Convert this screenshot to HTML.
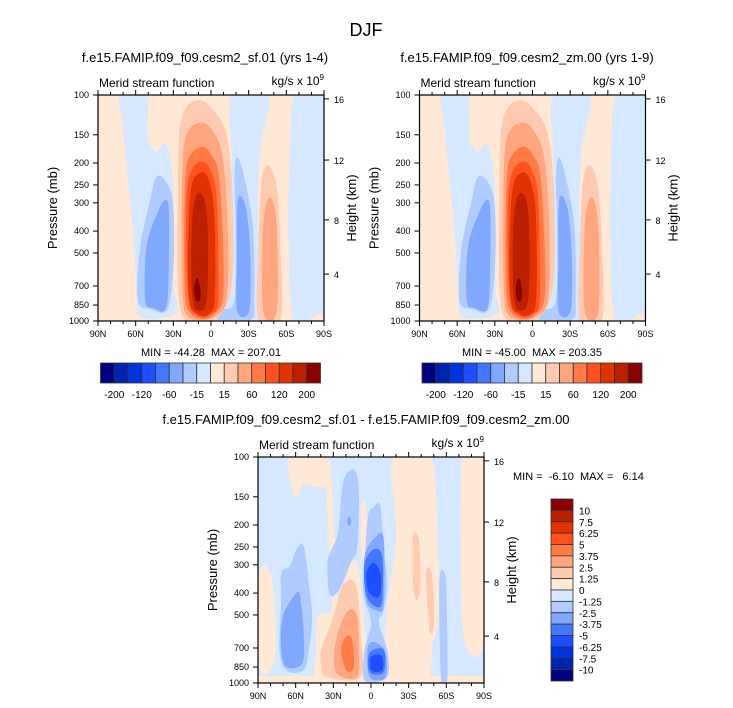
<!DOCTYPE html>
<html><head><meta charset="utf-8"><style>
body{margin:0;background:#fff;}
svg{display:block;font-family:"Liberation Sans",Arial,sans-serif;}
text{white-space:pre;}
</style></head><body>
<svg id="fig" width="733" height="708" viewBox="0 0 733 708" xmlns="http://www.w3.org/2000/svg">
<text x="366" y="36" font-size="18" text-anchor="middle">DJF</text>
</svg>
<script>
const colors=['#000080','#0022b0','#0033dd','#1e4fff','#4477ff','#80a8ff','#b0ccff','#d6e8ff','#ffe8d6','#ffcbb0','#ffa57f','#ff7a45','#ff5020','#e03300','#b82000','#8b0000'];
const latTicks=[90,60,30,0,-30,-60,-90];
const latLabels=['90N','60N','30N','0','30S','60S','90S'];
const presTicks=[100,150,200,250,300,400,500,700,850,1000];
const heightTicks=[4,8,12,16];
const heightPres=[620,357,194,104];
const topBarLabels=['-200','','-120','','-60','','-15','','15','','60','','120','','200'];
const diffBarLabels=['10','7.5','6.25','5','3.75','2.5','1.25','0','-1.25','-2.5','-3.75','-5','-6.25','-7.5','-10'];
// shapes: [colorIndex, [[lat,p],...]]
const topShapes=[
 [7,[[72,100],[52,100],[51,153],[44,179],[36,167],[31,230],[30,384],[30,714],[28,925],[56,955],[59,714],[62,384],[70,138]]],
 [7,[[-17,100],[-45,100],[-42,138],[-38,195],[-37,383],[-38,990],[-5,995],[-8,900],[-17,700],[-17,383],[-17,195]]],
 [7,[[-67,100],[-90,100],[-90,751],[-84,925],[-66,990],[-62,383],[-63,195]]],
 [6,[[44,235],[48,292],[56,469],[58,808],[48,880],[35,880],[30,537],[31,292],[38,235]]],
 [5,[[36,292],[42,330],[51,469],[52,808],[46,870],[36,870],[34,537],[34,330]]],
 [6,[[-21,190],[-26,230],[-33,383],[-34,808],[-31,985],[-6,985],[-8,900],[-19,808],[-20,383],[-19,230]]],
 [5,[[-23,280],[-28,330],[-31,537],[-30,900],[-21,900],[-21,537],[-21,330]]],
 [9,[[-45,205],[-52,260],[-55,500],[-55,985],[-38,985],[-38,500],[-40,260]]],
 [10,[[-47,285],[-52,383],[-52,900],[-42,900],[-42,383]]],
 [9,[[10,106],[20,115],[25,150],[26,300],[26,700],[22,960],[10,995],[-5,960],[-16,700],[-17,300],[-12,150],[0,115]]],
 [10,[[8,133],[18,145],[22,190],[23,400],[22,800],[18,950],[8,985],[-3,950],[-12,800],[-13,400],[-9,190],[-1,145]]],
 [11,[[7,170],[16,185],[20,230],[21,500],[20,800],[15,935],[6,975],[-2,935],[-9,800],[-9.5,500],[-6,230],[0,185]]],
 [12,[[7,198],[15,215],[19,280],[19,600],[17,850],[12,930],[6,960],[0,930],[-5,850],[-5.5,600],[-4,280],[1,215]]],
 [13,[[7,221],[14,240],[17,320],[18,600],[16,850],[11,920],[6,945],[1,920],[-2,850],[-3,600],[-2,320],[2,240]]],
 [14,[[9,272],[13,300],[15,400],[15,700],[13,860],[9,895],[5,860],[3,700],[3,400],[5,300]]],
 [15,[[11,650],[13,720],[12,800],[11,815],[9,800],[9,720]]]
];
const diffShapes=[
 [8,[[90,938],[-90,938],[-90,1000],[90,1000]]],
 [8,[[88.4,327],[80.4,327],[76.5,509],[77.8,818],[88.4,846]]],
 [8,[[64.5,100],[35.3,100],[34.8,131],[43.3,135],[53.9,131],[59.2,150],[62.4,140]]],
 [8,[[35.8,114],[32.7,114],[28.7,258],[26.8,509],[30,509],[32.7,258]]],
 [8,[[41.9,509],[32.7,491],[24.7,429],[16.7,295],[11.4,300],[7.4,429],[6.1,970],[41.9,970],[43.3,714]]],
 [8,[[7.4,166],[4.8,163],[2.1,258],[4.8,306],[7.4,258]]],
 [8,[[-17.8,100],[-47,100],[-52.3,225],[-53.6,509],[-48.3,668],[-44.3,970],[-15.1,970],[-12.5,509],[-20.5,225]]],
 [8,[[-73.5,100],[-90,100],[-90,624],[-76.2,691],[-72.2,362]]],
 [9,[[39.3,714],[31.3,544],[23.4,387],[16.7,350],[11.4,387],[8.8,603],[8.8,938],[35.3,938],[39.3,846]]],
 [10,[[28.7,714],[23.4,544],[16.7,475],[11.4,509],[10.1,714],[11.4,938],[26.8,906]]],
 [11,[[23.4,714],[19.4,624],[15.4,646],[14.1,846],[19.4,875]]],
 [9,[[-33.7,225],[-37.7,233],[-39,362],[-36.3,429],[-33.7,350]]],
 [9,[[-44.3,327],[-48.3,338],[-49.7,544],[-47,583]]],
 [6,[[71.2,327],[64.5,306],[59.2,258],[53.9,249],[49.9,362],[47.3,509],[49.9,714],[53.9,875],[67.2,875],[72.5,714],[71.2,444]]],
 [5,[[69.8,509],[59.2,401],[56.5,429],[53.9,624],[55.2,818],[67.2,846],[71.2,714]]],
 [6,[[22,131],[14.1,114],[10.1,140],[11.4,249],[16.7,295],[26,387],[32.7,401],[34,286],[26,218]]],
 [5,[[18.5,190],[16.7,185],[16.2,197],[18,200]]],
 [6,[[4.8,295],[2.1,184],[-3.2,166],[-7.2,166],[-9.8,258],[-12.5,362],[-9.8,475],[-5.8,544],[-12.5,714],[-12.5,938],[4.8,970],[4.8,714],[-0.5,544],[4.8,429],[6.1,362]]],
 [5,[[4.8,276],[-4.5,225],[-9.8,233],[-9.8,444],[-4.5,475],[3.4,429]]],
 [5,[[2.1,691],[-4.5,668],[-11.2,739],[-11.2,938],[0.8,938]]],
 [4,[[4.8,300],[-1.9,258],[-8.5,276],[-8.5,429],[-4.5,459],[3.4,409]]],
 [4,[[0.8,739],[-9.8,714],[-9.8,891],[0.8,891]]],
 [3,[[3.4,327],[-1.9,295],[-7.2,327],[-7.2,401],[-3.2,415],[2.1,387]]],
 [3,[[-0.5,764],[-8.5,764],[-8.5,875],[-0.5,875]]],
 [6,[[-55,338],[-58.9,338],[-60.3,583],[-60.3,970],[-56.3,970],[-55,583]]]
];
const NS='http://www.w3.org/2000/svg';
const svg=document.getElementById('fig');
function mk(tag,attrs,parent){const e=document.createElementNS(NS,tag);for(const k in attrs)e.setAttribute(k,attrs[k]);(parent||svg).appendChild(e);return e;}
function txt(x,y,s,size,anchor,parent){const t=mk('text',{x:x,y:y,'font-size':size,'text-anchor':anchor||'start'},parent);t.textContent=s;return t;}
function smoothPath(P){
  const n=P.length;let d='M'+P[0][0].toFixed(1)+','+P[0][1].toFixed(1);
  for(let i=0;i<n;i++){
    const p0=P[(i-1+n)%n],p1=P[i],p2=P[(i+1)%n],p3=P[(i+2)%n];
    const c1=[p1[0]+(p2[0]-p0[0])/6,p1[1]+(p2[1]-p0[1])/6];
    const c2=[p2[0]-(p3[0]-p1[0])/6,p2[1]-(p3[1]-p1[1])/6];
    d+='C'+c1[0].toFixed(1)+','+c1[1].toFixed(1)+' '+c2[0].toFixed(1)+','+c2[1].toFixed(1)+' '+p2[0].toFixed(1)+','+p2[1].toFixed(1);
  }
  return d+'Z';
}
function panel(px,py,w,h,bg,shapes,name,title,titleX){
  const g=mk('g',{});
  
  
  const xs=lat=>px+(90-lat)/180*w;
  const ys=p=>py+Math.log10(p/100)*h;
  const clipId=name+'-clip';
  const cp=mk('clipPath',{id:clipId},g);mk('rect',{x:px,y:py,width:w,height:h},cp);
  const field=mk('g',{'clip-path':'url(#'+clipId+')'},g);
  mk('rect',{x:px,y:py,width:w,height:h,fill:colors[bg]},field);
  shapes.forEach(s=>{
    const pts=s[1].map(q=>[xs(q[0]),ys(q[1])]);
    const pl=mk('path',{d:smoothPath(pts),fill:colors[s[0]],stroke:colors[s[0]],'stroke-width':1,'stroke-linejoin':'round'},field);
    
    
  });
  mk('rect',{x:px,y:py,width:w,height:h,fill:'none',stroke:'#000','stroke-width':1.2},g);
  latTicks.forEach((l,i)=>{
    const x=xs(l);
    mk('line',{x1:x,y1:py+h,x2:x,y2:py+h+5,stroke:'#000'},g);
    mk('line',{x1:x,y1:py,x2:x,y2:py-5,stroke:'#000'},g);
    const t=txt(x,py+h+16,latLabels[i],9,'middle',g);
    
    
  });
  for(let l=80;l>=-80;l-=10){if(l%30!==0){const x=xs(l);mk('line',{x1:x,y1:py+h,x2:x,y2:py+h+3,stroke:'#000'},g);mk('line',{x1:x,y1:py,x2:x,y2:py-3,stroke:'#000'},g);}}
  presTicks.forEach(p=>{
    const y=ys(p);
    mk('line',{x1:px-5,y1:y,x2:px,y2:y,stroke:'#000'},g);
    const t=txt(px-9,y+3,String(p),9,'end',g);
    
    
  });
  heightTicks.forEach((z,i)=>{
    const y=ys(heightPres[i]);
    mk('line',{x1:px+w,y1:y,x2:px+w+5,y2:y,stroke:'#000'},g);
    const t=txt(px+w+10,y+4,String(z),9,'start',g);
    
    
  });
  const yt=txt(0,0,'Pressure (mb)',13,'middle',g);
  yt.setAttribute('transform','translate('+(px-41)+','+(py+h/2)+') rotate(-90)');
  
  
  const ht=txt(0,0,'Height (km)',13,'middle',g);
  ht.setAttribute('transform','translate('+(px+w+32)+','+(py+h/2)+') rotate(-90)');
  
  
  const lt=txt(px+1,py-8,'Merid stream function',12,'start',g);
  
  
  const ut=mk('text',{x:px+w,y:py-10,'font-size':12,'text-anchor':'end'},g);
  ut.innerHTML='kg/s x 10<tspan font-size="8" dy="-5">9</tspan>';
  
  
  const tt=txt(titleX,py-33,title,13,'middle',g);
  
  
  return g;
}
function hbar(x0,y0,w,h,name){
  const g=mk('g',{});
  
  
  const bw=w/colors.length;
  colors.forEach((c,i)=>{const r=mk('rect',{x:x0+i*bw,y:y0,width:bw,height:h,fill:c,stroke:'#333','stroke-width':0.8},g);
    });
  topBarLabels.forEach((s,i)=>{if(s){const t=txt(x0+(i+1)*bw,y0+h+15,s,10,'middle',g);
    }});
}
panel(98,95,226,226,8,topShapes,'panel-sf01','f.e15.FAMIP.f09_f09.cesm2_sf.01 (yrs 1-4)',205);
panel(419.5,95,226,226,8,topShapes,'panel-zm00','f.e15.FAMIP.f09_f09.cesm2_zm.00 (yrs 1-9)',527);
let m1=txt(211,356,'MIN = -44.28  MAX = 207.01',11,'middle');

let m2=txt(532,356,'MIN = -45.00  MAX = 203.35',11,'middle');

hbar(100.5,363,220,20,'colorbar-left');
hbar(422,363,220,20,'colorbar-right');
panel(258,457,226,226,7,diffShapes,'panel-diff','f.e15.FAMIP.f09_f09.cesm2_sf.01 - f.e15.FAMIP.f09_f09.cesm2_zm.00',366);
let m3=txt(513,480,'MIN =  -6.10  MAX =   6.14',11,'start');

(function(){
  const g=mk('g',{});
  
  
  const x0=551,y0=499,w=22,h=182,bh=h/colors.length;
  colors.slice().reverse().forEach((c,i)=>{const r=mk('rect',{x:x0,y:y0+i*bh,width:w,height:bh,fill:c,stroke:'#333','stroke-width':0.8},g);
    });
  diffBarLabels.forEach((s,i)=>{const t=txt(x0+28,y0+(i+1)*bh+4,s,10,'start',g);
    });
})();
</script>
</body></html>
